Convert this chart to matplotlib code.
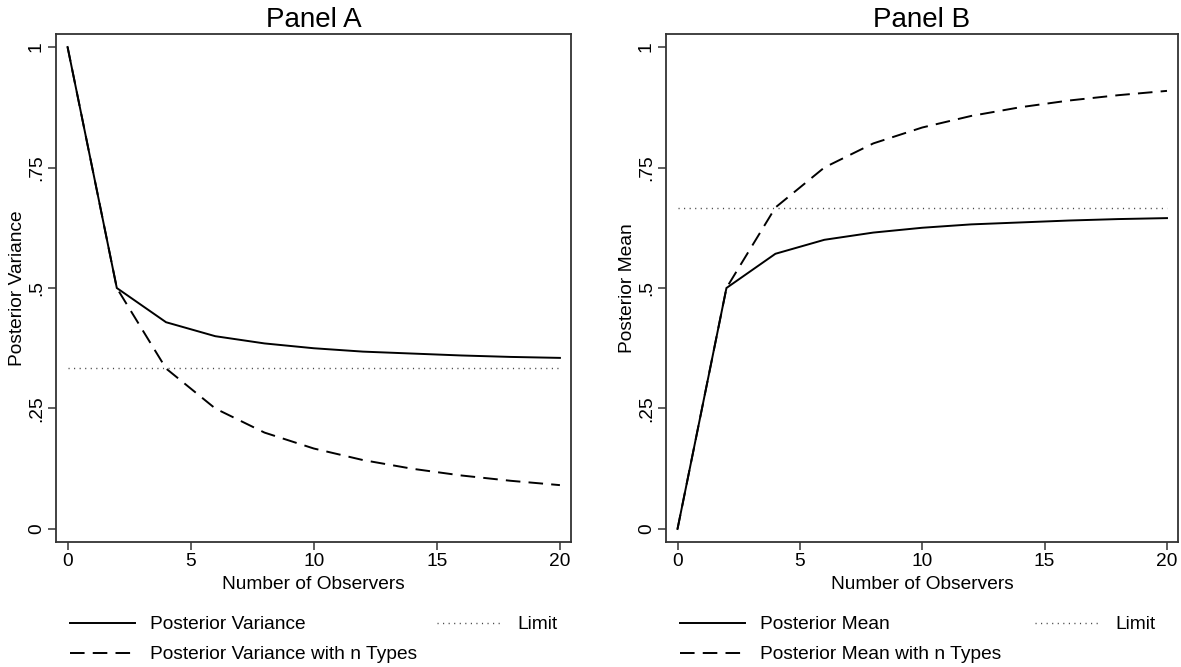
import matplotlib
matplotlib.use("Agg")
import matplotlib.pyplot as plt

plt.rcParams['font.family'] = ['Liberation Sans', 'DejaVu Sans']

observers = [0, 2, 4, 6, 8, 10, 12, 14, 16, 18, 20]
post_var = [1.0, 0.5, 0.429, 0.4, 0.385, 0.375, 0.368, 0.364, 0.36, 0.357, 0.355]
post_var_n = [1.0, 0.5, 0.333, 0.25, 0.2, 0.167, 0.143, 0.125, 0.111, 0.1, 0.091]
limit_var = 0.333
post_mean = [0.0, 0.5, 0.571, 0.6, 0.615, 0.625, 0.632, 0.636, 0.64, 0.643, 0.645]
post_mean_n = [0.0, 0.5, 0.667, 0.75, 0.8, 0.833, 0.857, 0.875, 0.889, 0.9, 0.909]
limit_mean = 0.667
yticks = [0, 0.25, 0.5, 0.75, 1]
ytick_labels = ['0', '.25', '.5', '.75', '1']
xticks = [0, 5, 10, 15, 20]

W, H = 1181, 667
fig = plt.figure(figsize=(W / 100, H / 100), dpi=100)

def fx(px):
    return px / W

def fy(py):
    return 1 - py / H

TOP, BOT = 34, 542
axA = fig.add_axes([fx(56), fy(BOT), fx(571 - 56), (BOT - TOP) / H])
axB = fig.add_axes([fx(666), fy(BOT), fx(1178 - 666), (BOT - TOP) / H])

FS = 13.8
panels = [
    (axA, 'Panel A', 'Posterior Variance', post_var, post_var_n, limit_var,
     ['Posterior Variance', 'Posterior Variance with n Types', 'Limit'], 70, 1.05),
    (axB, 'Panel B', 'Posterior Mean', post_mean, post_mean_n, limit_mean,
     ['Posterior Mean', 'Posterior Mean with n Types', 'Limit'], 680, 1.75),
]

for ax, title, ylab, solid, dashed, lim, labels, legx, colsp in panels:
    l1, = ax.plot(observers, solid, color='black', lw=1.4, solid_joinstyle='miter')
    l2, = ax.plot(observers, dashed, color='black', lw=1.4, dashes=(7.5, 4.2))
    l3, = ax.plot([observers[0], observers[-1]], [lim, lim], color='#444444',
                  lw=1.0, dashes=(0.8, 3.2))
    ax.set_xlim(-0.47, 20.45)
    ax.set_ylim(-0.027, 1.027)
    ax.set_xticks(xticks)
    ax.set_xticklabels([str(t) for t in xticks])
    ax.set_yticks(yticks)
    ax.set_yticklabels(ytick_labels, rotation=90, va='center')
    ax.tick_params(axis='both', direction='out', length=6, width=1.1,
                   color='#333333', labelsize=FS, pad=2)
    for s in ax.spines.values():
        s.set_color('#333333')
        s.set_linewidth(1.3)
    ax.set_title(title, fontsize=20, pad=5)
    ax.set_xlabel('Number of Observers', fontsize=FS, labelpad=4)
    ax.set_ylabel(ylab, fontsize=FS)
    ax.yaxis.set_label_coords(-0.058, 0.5)
    fig.legend([l1, l2, l3], labels, loc='upper left',
               bbox_to_anchor=(fx(legx), fy(616)), frameon=False, ncol=2,
               fontsize=FS, handlelength=3.4, handletextpad=0.78,
               columnspacing=colsp, labelspacing=0.66, borderpad=0,
               borderaxespad=0)

fig.savefig('out.png', dpi=100)
